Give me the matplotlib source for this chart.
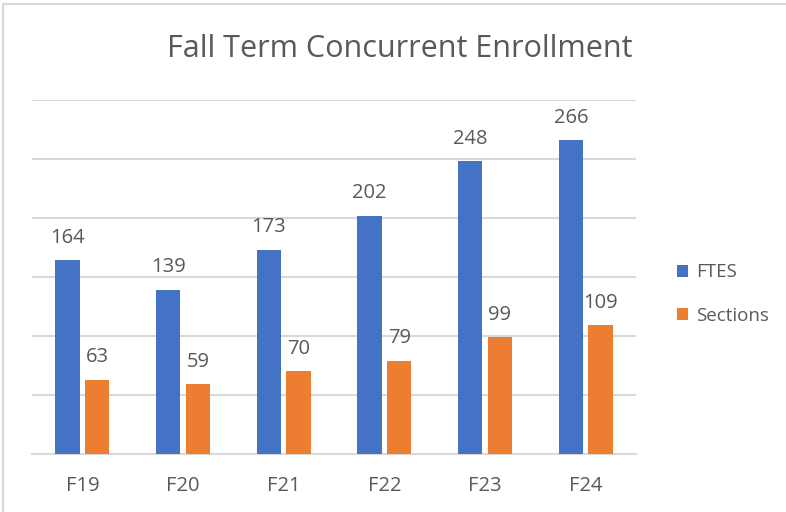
import matplotlib
matplotlib.use("Agg")
import matplotlib.pyplot as plt
from matplotlib.patches import Rectangle
import numpy as np

categories = ["F19", "F20", "F21", "F22", "F23", "F24"]
ftes = [164, 139, 173, 202, 248, 266]
sections = [63, 59, 70, 79, 99, 109]
series_names = ["FTES", "Sections"]

plt.rcParams['font.family'] = ['Open Sans', 'DejaVu Sans']
text_color = "#595959"
blue = "#4472C4"
orange = "#ED7D31"

fig = plt.figure(figsize=(7.86, 5.12), dpi=100)
ax = fig.add_axes([32/786, (512-454)/512, (636-32)/786, (454-100)/512])

x = np.arange(len(categories))
w = 0.24
off = 0.148
b1 = ax.bar(x - off, ftes, width=w, color=blue, label=series_names[0], zorder=3)
b2 = ax.bar(x + off, sections, width=w, color=orange, label=series_names[1], zorder=3)

for bars, vals in ((b1, ftes), (b2, sections)):
    for r, v in zip(bars, vals):
        ax.annotate(str(v), (r.get_x() + r.get_width()/2, v), xytext=(0, 9),
                    textcoords="offset points", ha="center", va="bottom",
                    fontsize=14.5, color=text_color)

ax.set_xlim(-0.5, len(categories) - 0.5)
ax.set_ylim(0, 300)
ax.set_yticks(np.arange(0, 301, 50))
ax.yaxis.grid(True, color="#d9d9d9", linewidth=1.5, zorder=0)
ax.set_yticklabels([])
ax.tick_params(axis="y", length=0)
ax.set_xticks(x)
ax.set_xticklabels(categories, fontsize=14.5, color=text_color)
ax.tick_params(axis="x", length=0, pad=16)
for s in ["top", "right", "left"]:
    ax.spines[s].set_visible(False)
ax.spines["bottom"].set_color("#d9d9d9")
ax.spines["bottom"].set_linewidth(1.5)

fig.text(400/786, 1 - 49/512, "Fall Term Concurrent Enrollment", ha="center", va="center",
         fontsize=22, color=text_color)

ax.legend(loc="center left", bbox_to_anchor=(660/786, (512-294)/512), bbox_transform=fig.transFigure,
          frameon=False, fontsize=13.5, labelcolor=text_color, handlelength=0.6, handleheight=0.6,
          handletextpad=0.4, labelspacing=1.35)

fig.patches.append(Rectangle((3/786, -0.01), 1.0, 1 - 4/512 + 0.01, transform=fig.transFigure,
                             fill=False, edgecolor="#d9d9d9", linewidth=1.5))

fig.savefig("out.png", dpi=100)
